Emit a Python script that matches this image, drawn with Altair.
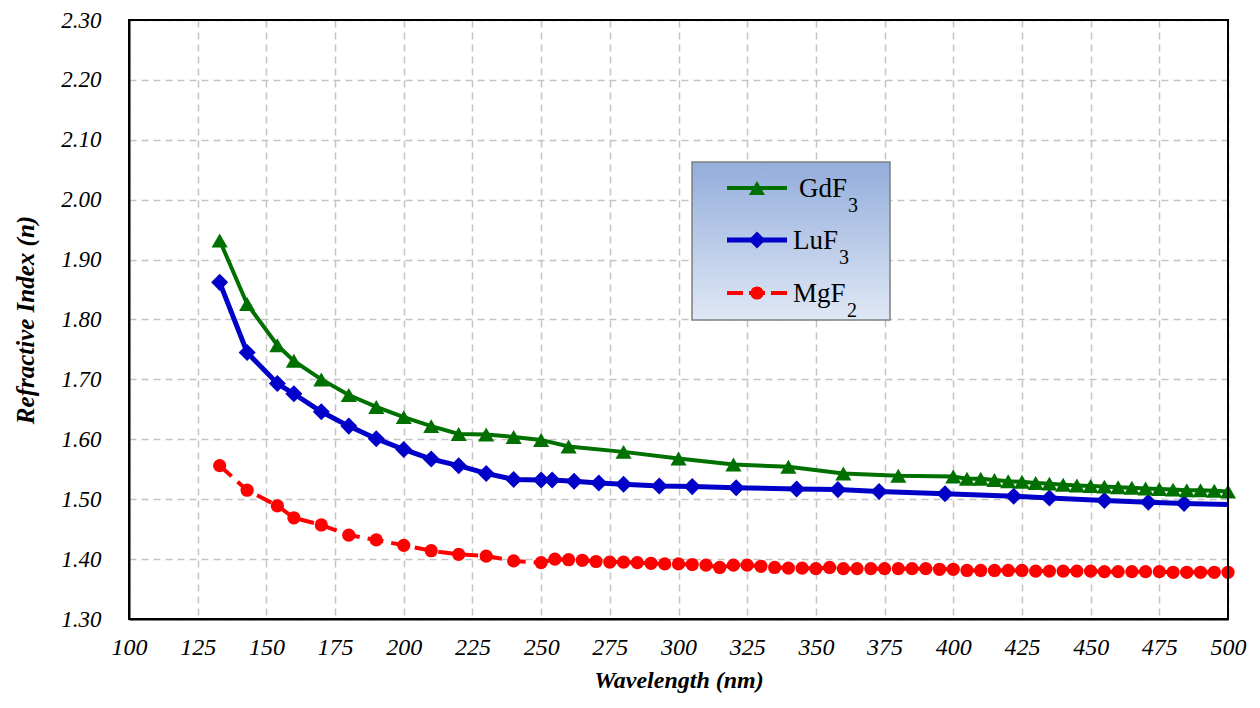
import altair as alt
import pandas as pd

# ---------------- data ----------------
gd_wl = [133, 143, 154, 160, 170, 180, 190, 200, 210, 220, 230, 240, 250, 260, 280,
         300, 320, 340, 360, 380, 400, 405, 410, 415, 420, 425, 430, 435, 440, 445,
         450, 455, 460, 465, 470, 475, 480, 485, 490, 495, 500]
gd_n = [1.932, 1.826, 1.757, 1.731, 1.700, 1.674, 1.654, 1.637, 1.622, 1.609, 1.608,
        1.604, 1.599, 1.588, 1.579, 1.568, 1.558, 1.554, 1.543, 1.539, 1.538, 1.534,
        1.534, 1.532, 1.530, 1.529, 1.527, 1.526, 1.524, 1.523, 1.522, 1.521, 1.520,
        1.519, 1.518, 1.517, 1.516, 1.515, 1.515, 1.514, 1.513]

lu_wl = [133, 143, 154, 160, 170, 180, 190, 200, 210, 220, 230, 240, 250, 254, 262,
         271, 280, 293, 305, 321, 343, 358, 373, 397, 422, 435, 455, 471, 484, 500]
lu_n = [1.862, 1.745, 1.693, 1.676, 1.646, 1.622, 1.601, 1.583, 1.567, 1.556, 1.543,
        1.533, 1.532, 1.532, 1.530, 1.527, 1.525, 1.522, 1.521, 1.519, 1.517, 1.516,
        1.513, 1.509, 1.505, 1.502, 1.498, 1.495, 1.493, 1.491]
lu_marked = [True] * 29 + [False]   # line end at 500 nm carries no marker

mg_wl = [133, 143, 154, 160, 170, 180, 190, 200, 210, 220, 230, 240,
         250, 255, 260, 265, 270, 275, 280, 285, 290, 295, 300, 305, 310, 315, 320,
         325, 330, 335, 340, 345, 350, 355, 360, 365, 370, 375, 380, 385, 390, 395,
         400, 405, 410, 415, 420, 425, 430, 435, 440, 445, 450, 455, 460, 465, 470,
         475, 480, 485, 490, 495, 500]
mg_n = [1.556, 1.515, 1.489, 1.469, 1.457, 1.440, 1.432, 1.423, 1.414, 1.408, 1.405, 1.397,
        1.394, 1.400, 1.399, 1.398, 1.396, 1.395, 1.395, 1.394, 1.393, 1.392, 1.392, 1.391,
        1.390, 1.386, 1.390, 1.390, 1.388, 1.386, 1.385, 1.385, 1.384, 1.386, 1.384, 1.384,
        1.384, 1.384, 1.384, 1.384, 1.384, 1.383, 1.383, 1.381, 1.381, 1.381, 1.381, 1.381,
        1.380, 1.380, 1.380, 1.380, 1.380, 1.379, 1.379, 1.379, 1.379, 1.379, 1.378, 1.378,
        1.378, 1.378, 1.378]

x_ticks = [100, 125, 150, 175, 200, 225, 250, 275, 300, 325, 350, 375, 400, 425, 450, 475, 500]
y_ticks = [1.3, 1.4, 1.5, 1.6, 1.7, 1.8, 1.9, 2.0, 2.1, 2.2, 2.3]

GREEN = "#007000"
BLUE = "#0000c8"
RED = "#ff0000"
SERIF = "Liberation Serif"

W, H = 1099, 599

gd = pd.DataFrame({"wl": gd_wl, "n": gd_n, "m": [True] * len(gd_wl)})
lu = pd.DataFrame({"wl": lu_wl, "n": lu_n, "m": lu_marked})
mg = pd.DataFrame({"wl": mg_wl, "n": mg_n, "m": [True] * len(mg_wl)})

X = alt.X("wl:Q", scale=alt.Scale(domain=[100, 500], nice=False, zero=False),
          axis=alt.Axis(values=x_ticks, title="Wavelength (nm)", labelPadding=16,
                        titlePadding=9, labelFontSize=24, labelFlush=False,
                        titleFontSize=24))
Y = alt.Y("n:Q", scale=alt.Scale(domain=[1.3, 2.3], nice=False, zero=False),
          axis=alt.Axis(values=y_ticks, format=".2f", title="Refractive Index (n)",
                        labelPadding=28, titlePadding=22, labelFontSize=23,
                        labelFlush=False, titleFontSize=25))


def series(df, color, width, shape, size, dash=None):
    line_kw = dict(color=color, strokeWidth=width, clip=True)
    if dash:
        line_kw["strokeDash"] = dash
    line = alt.Chart(df).mark_line(**line_kw).encode(x=X, y=Y)
    pts = alt.Chart(df).transform_filter("datum.m").mark_point(
        shape=shape, size=size, filled=True, color=color, opacity=1).encode(x=X, y=Y)
    return [line, pts]


layers = []
layers += series(mg, RED, 4, "circle", 175, dash=[16, 8])
layers += series(lu, BLUE, 5, "diamond", 290)
layers += series(gd, GREEN, 4, "triangle-up", 260)

one = alt.Data(values=[{"a": 1}])

# black frame on top of the end grid lines
frame = alt.Chart(one).mark_rect(filled=False, stroke="black", strokeWidth=2).encode(
    x=alt.value(0), x2=alt.value(W), y=alt.value(0), y2=alt.value(H))
layers.append(frame)

# ---------------- custom legend box ----------------
box = alt.Chart(one).mark_rect(
    fill={"gradient": "linear", "x1": 0, "y1": 0, "x2": 0, "y2": 1,
          "stops": [{"offset": 0, "color": "#93addb"}, {"offset": 1, "color": "#dfe8f5"}]},
    stroke="#7f7f7f", strokeWidth=1.5
).encode(x=alt.value(563), x2=alt.value(761), y=alt.value(142), y2=alt.value(300))
layers.append(box)

entries = [
    ("GdF", "3", GREEN, 4, "triangle-up", 260, None, 168, 670, 49),
    ("LuF", "3", BLUE, 5, "diamond", 290, None, 220, 664, 46),
    ("MgF", "2", RED, 4, "circle", 175, [16, 6], 273, 664, 54),
]
for main, sub, color, w, shape, size, dash, yrow, xt, tw in entries:
    rule_kw = dict(color=color, strokeWidth=w)
    if dash:
        rule_kw["strokeDash"] = dash
    layers.append(alt.Chart(one).mark_rule(**rule_kw).encode(
        x=alt.value(598), x2=alt.value(658), y=alt.value(yrow)))
    layers.append(alt.Chart(one).mark_point(
        shape=shape, size=size, filled=True, color=color, opacity=1).encode(
        x=alt.value(628), y=alt.value(yrow)))
    layers.append(alt.Chart(one).mark_text(
        font=SERIF, fontSize=27, align="left", baseline="alphabetic", color="black").encode(
        x=alt.value(xt), y=alt.value(yrow + 9), text=alt.value(main)))
    layers.append(alt.Chart(one).mark_text(
        font=SERIF, fontSize=20, align="left", baseline="alphabetic", color="black").encode(
        x=alt.value(xt + tw), y=alt.value(yrow + 24), text=alt.value(sub)))

chart = alt.layer(*layers).properties(
    width=W, height=H,
    padding={"left": 121, "top": 12, "right": 20, "bottom": 81},
    autosize=alt.AutoSizeParams(type="none"),
    background="white",
).configure_view(
    stroke="black", strokeWidth=2
).configure_axis(
    grid=True, gridColor="#c4c4c4", gridDash=[7, 5], gridWidth=1.5,
    domainColor="black", domainWidth=2, ticks=False,
    labelFont=SERIF, labelFontStyle="italic", labelColor="black",
    titleFont=SERIF, titleFontStyle="italic", titleFontWeight="bold",
    titleColor="black",
)

chart.save("out.html", embed_options={"renderer": "svg", "actions": False})
